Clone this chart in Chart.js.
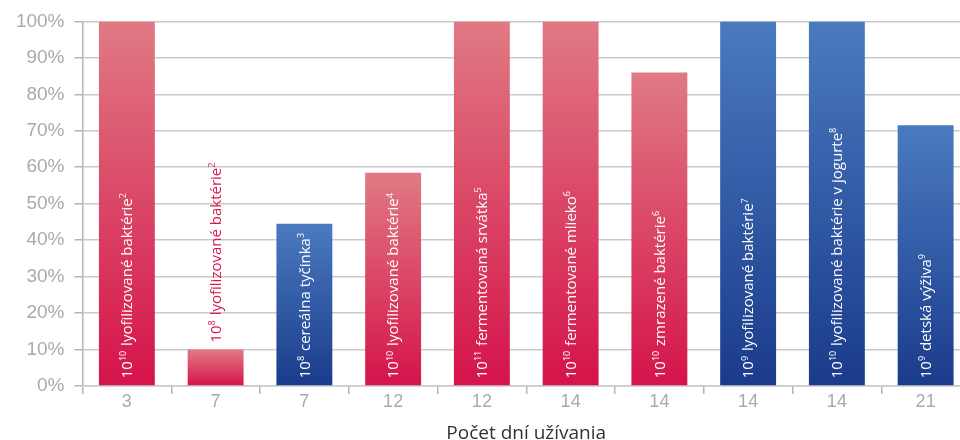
<!DOCTYPE html>
<html lang="sk">
<head>
    <meta charset="UTF-8">
    <title>Počet dní užívania</title>
    <script src="https://cdn.jsdelivr.net/npm/chart.js@4.4.0/dist/chart.umd.min.js"></script>
    <style>
        html, body { margin: 0; padding: 0; background: #fff; overflow: hidden; }
        #wrap { width: 960px; height: 440px; overflow: hidden; }
    </style>
</head>
<body>
<div id="wrap">
    <canvas id="myChart" width="972" height="445"></canvas>
</div>

<script>
// data
const days = ['3', '7', '7', '12', '12', '14', '14', '14', '14', '21'];
const shares = [100, 10, 44.5, 58.5, 100, 100, 86, 100, 100, 71.5];
const groups = ['red', 'red', 'blue', 'red', 'red', 'red', 'red', 'blue', 'blue', 'blue'];
const barTexts = [
    '10^{10} lyofilizované baktérie^{2}',
    '10^{8} lyofilizované baktérie^{2}',
    '10^{8} cereálna tyčinka^{3}',
    '10^{10} lyofilizované baktérie^{4}',
    '10^{11} fermentovaná srvátka^{5}',
    '10^{10} fermentované mlieko^{6}',
    '10^{10} zmrazené baktérie^{6}',
    '10^{9} lyofilizované baktérie^{7}',
    '10^{10} lyofilizované baktérie v jogurte^{8}',
    '10^{9} detská výživa^{9}'
];
const yTicks = [0, 10, 20, 30, 40, 50, 60, 70, 80, 90, 100];

const palette = {
    red: { top: '#e07a83', bottom: '#d5134a' },
    blue: { top: '#4a7abf', bottom: '#1a3b8b' }
};

function barFill(context) {
    const chart = context.chart;
    const i = context.dataIndex;
    const c = palette[groups[i]];
    if (!chart.chartArea || !chart.scales.y) return c.bottom;
    const top = chart.scales.y.getPixelForValue(shares[i]);
    const base = chart.scales.y.getPixelForValue(0);
    const g = chart.ctx.createLinearGradient(0, top, 0, base);
    g.addColorStop(0, c.top);
    g.addColorStop(1, c.bottom);
    return g;
}

// split "10^{10} text^{2}" into normal and superscript parts
function parts(str) {
    const out = [];
    const re = /\^\{([^}]*)\}/g;
    let last = 0, m;
    while ((m = re.exec(str)) !== null) {
        if (m.index > last) out.push({ t: str.slice(last, m.index), sup: false });
        out.push({ t: m[1], sup: true });
        last = re.lastIndex;
    }
    if (last < str.length) out.push({ t: str.slice(last), sup: false });
    return out;
}

const fontMain = '15px "Open Sans"';
const fontSup = '9px "Open Sans"';

const barLabels = {
    id: 'barLabels',
    afterDatasetsDraw(chart) {
        const ctx = chart.ctx;
        const meta = chart.getDatasetMeta(0);
        meta.data.forEach((bar, i) => {
            const segs = parts(barTexts[i]);
            ctx.save();
            let len = 0;
            segs.forEach(s => {
                ctx.font = s.sup ? fontSup : fontMain;
                s.w = ctx.measureText(s.t).width;
                len += s.w;
            });
            const inside = (bar.base - bar.y) > len + 12;
            const startY = inside ? bar.base - 7 : bar.y - 7;
            ctx.translate(bar.x + 1, startY);
            ctx.rotate(-Math.PI / 2);
            ctx.fillStyle = inside ? '#ffffff' : '#d5184b';
            ctx.textBaseline = 'middle';
            ctx.textAlign = 'left';
            let x = 0;
            segs.forEach(s => {
                ctx.font = s.sup ? fontSup : fontMain;
                ctx.fillText(s.t, x, s.sup ? -4 : 0);
                x += s.w + (s.sup ? 1 : 0);
            });
            ctx.restore();
        });
    }
};

const ctx = document.getElementById('myChart').getContext('2d');

const myChart = new Chart(ctx, {
    type: 'bar',
    data: {
        labels: days,
        datasets: [{
            data: shares,
            backgroundColor: barFill,
            borderWidth: 0,
            barPercentage: 0.63,
            categoryPercentage: 1
        }]
    },
    options: {
        responsive: false,
        animation: false,
        layout: { padding: { top: 20, left: 0, right: 2, bottom: 0 } },
        plugins: {
            legend: { display: false },
            tooltip: { enabled: false }
        },
        scales: {
            y: {
                min: 0,
                max: 100,
                afterBuildTicks: s => { s.ticks = yTicks.map(v => ({ value: v })); },
                afterFit: s => { s.width = 82.5; },
                ticks: {
                    callback: v => v + '%',
                    color: '#aaaaaa',
                    font: { family: '"Liberation Sans", Arial, sans-serif', size: 19 },
                    padding: 10
                },
                grid: {
                    color: '#c9c9c9',
                    lineWidth: 1.5,
                    tickLength: 8,
                    tickColor: '#b5b5b5'
                },
                border: { color: '#b5b5b5', width: 1.5 }
            },
            x: {
                afterFit: s => { s.height = 59; },
                ticks: {
                    color: '#aaaaaa',
                    font: { family: '"Liberation Sans", Arial, sans-serif', size: 18 },
                    padding: -3
                },
                grid: {
                    offset: true,
                    drawOnChartArea: false,
                    tickLength: 8,
                    tickColor: '#b5b5b5',
                    lineWidth: 1.5
                },
                border: { color: '#c9c9c9', width: 1.5 },
                title: {
                    display: true,
                    text: 'Počet dní užívania',
                    color: '#333333',
                    font: { family: '"Open Sans", sans-serif', size: 19 },
                    padding: { top: 0, bottom: 0 }
                }
            }
        }
    },
    plugins: [barLabels]
});
</script>
</body>
</html>
